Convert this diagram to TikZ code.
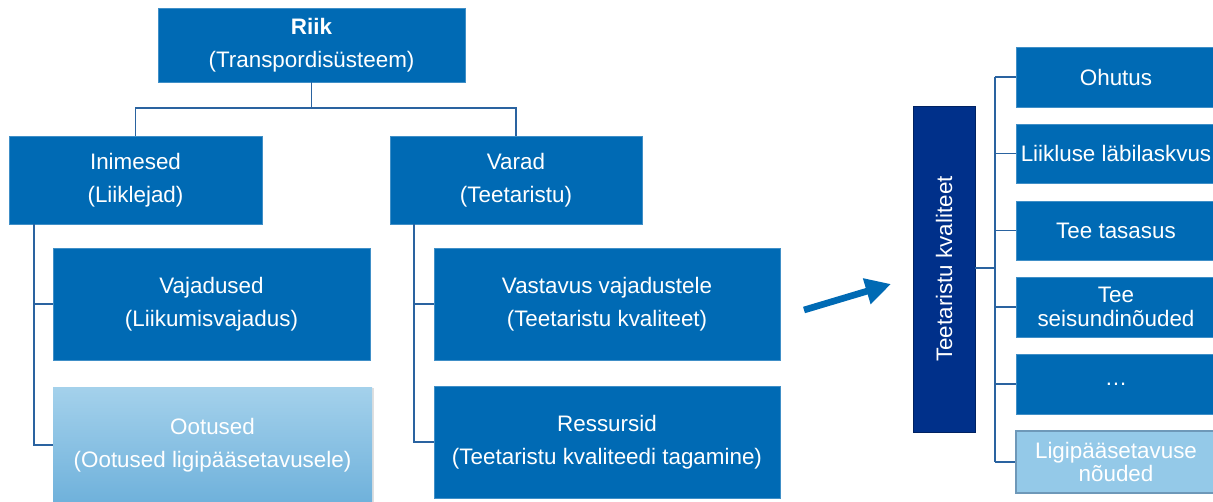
\documentclass[tikz,border=0pt]{standalone}
\usepackage{fontspec}
\setmainfont{Liberation Sans}
\usetikzlibrary{calc}
\usetikzlibrary{positioning}
\usetikzlibrary{arrows.meta}
\usetikzlibrary{shadows}

\definecolor{kastsinine}{HTML}{006AB4}
\definecolor{tumesinine}{HTML}{00308A}
\definecolor{helesinine}{HTML}{94C9E8}
\definecolor{helepiir}{HTML}{6E98B8}
\definecolor{joonesinine}{HTML}{2A63A0}

\tikzset{
    kast/.style 2 args={draw=kastsinine!75!white, line width=0.4pt, fill=kastsinine, text=white,
        minimum width=#1*0.75pt, minimum height=#2*0.75pt, inner sep=0pt, align=center,
        font=\fontsize{16.8pt}{24.75pt}\selectfont},
    joon/.style={draw=joonesinine, line width=1.3pt},
}

\begin{document}
\begin{tikzpicture}[x=0.75pt, y=-0.75pt]
                \useasboundingbox (0, 0) rectangle (1213, 501);

                \node[kast={307}{74}] (riik) at (311.5, 45) {\textbf{Riik}\\(Transpordisüsteem)};
                \node[kast={253}{88}] (inim) at (135.5, 180) {Inimesed\\(Liiklejad)};
                \node[kast={252}{88}] (varad) at (516, 180) {Varad\\(Teetaristu)};
                \node[kast={317}{112}] (vaj) at (211.5, 304) {Vajadused\\(Liikumisvajadus)};
                \node[kast={319}{116}, draw=none, top color=helesinine!85!white, bottom color=helesinine!75!kastsinine,
                      drop shadow={opacity=0.25, shadow xshift=1.5pt, shadow yshift=-1pt}] (oot) at (212.5, 445)
                      {Ootused\\(Ootused ligipääsetavusele)};
                \node[kast={346}{112}] (vast) at (607, 304) {Vastavus vajadustele\\(Teetaristu kvaliteet)};
                \node[kast={346}{112}] (ress) at (607, 442) {Ressursid\\(Teetaristu kvaliteedi tagamine)};

                \coordinate (jagu) at (311.5, 108);
                \coordinate (inimharu) at (34, 224);
                \coordinate (varadharu) at (414, 224);
                \draw[joon] (riik.south) -- (jagu);
                \draw[joon] (inim.north) |- (jagu) -| (varad.north);
                \draw[joon] (inimharu) |- (oot.west);
                \draw[joon] (inimharu |- vaj.west) -- (vaj.west);
                \draw[joon] (varadharu) |- (ress.west);
                \draw[joon] (varadharu |- vast.west) -- (vast.west);

                \coordinate (noolalgus) at (804, 310);
                \coordinate (noolots) at (891, 284);
                \draw[kastsinine, line width=5pt, -{Triangle[length=19pt, width=19pt]}] (noolalgus) -- (noolots);

                \node[kast={62}{326}, fill=tumesinine, draw=tumesinine!70!black] (kval) at (944, 269) {};
                \node[rotate=90, text=white, font=\fontsize{16.8pt}{20pt}\selectfont] (kvaltekst) at (kval.center) {Teetaristu kvaliteet};

                \node[kast={200}{60}] (ohutus) at (1116, 77) {Ohutus};
                \node[kast={200}{59}] (laskvus) at (1116, 153.5) {Liikluse läbilaskvus};
                \node[kast={200}{59}] (tasasus) at (1116, 230.5) {Tee tasasus};
                \node[kast={200}{60}, font=\fontsize{16.8pt}{18pt}\selectfont] (seisund) at (1116, 307) {Tee\\seisundinõuded};
                \node[kast={200}{60}] (muud) at (1116, 384) {…};
                \node[kast={200}{62}, fill=helesinine, draw=helepiir, line width=0.8pt,
                      font=\fontsize{16.8pt}{17pt}\selectfont] (ligi) at (1116, 462) {Ligipääsetavuse\\nõuded};

                \coordinate (siin) at (995, 268);
                \draw[joon] (kval.east |- siin) -- (siin);
                \draw[joon] (siin |- ohutus.west) -- (siin |- ligi.west);
                \draw[joon] (siin |- ohutus.west) -- (ohutus.west);
                \draw[joon] (siin |- laskvus.west) -- (laskvus.west);
                \draw[joon] (siin |- tasasus.west) -- (tasasus.west);
                \draw[joon] (siin |- seisund.west) -- (seisund.west);
                \draw[joon] (siin |- muud.west) -- (muud.west);
                \draw[joon] (siin |- ligi.west) -- (ligi.west);
            \end{tikzpicture}
\end{document}
